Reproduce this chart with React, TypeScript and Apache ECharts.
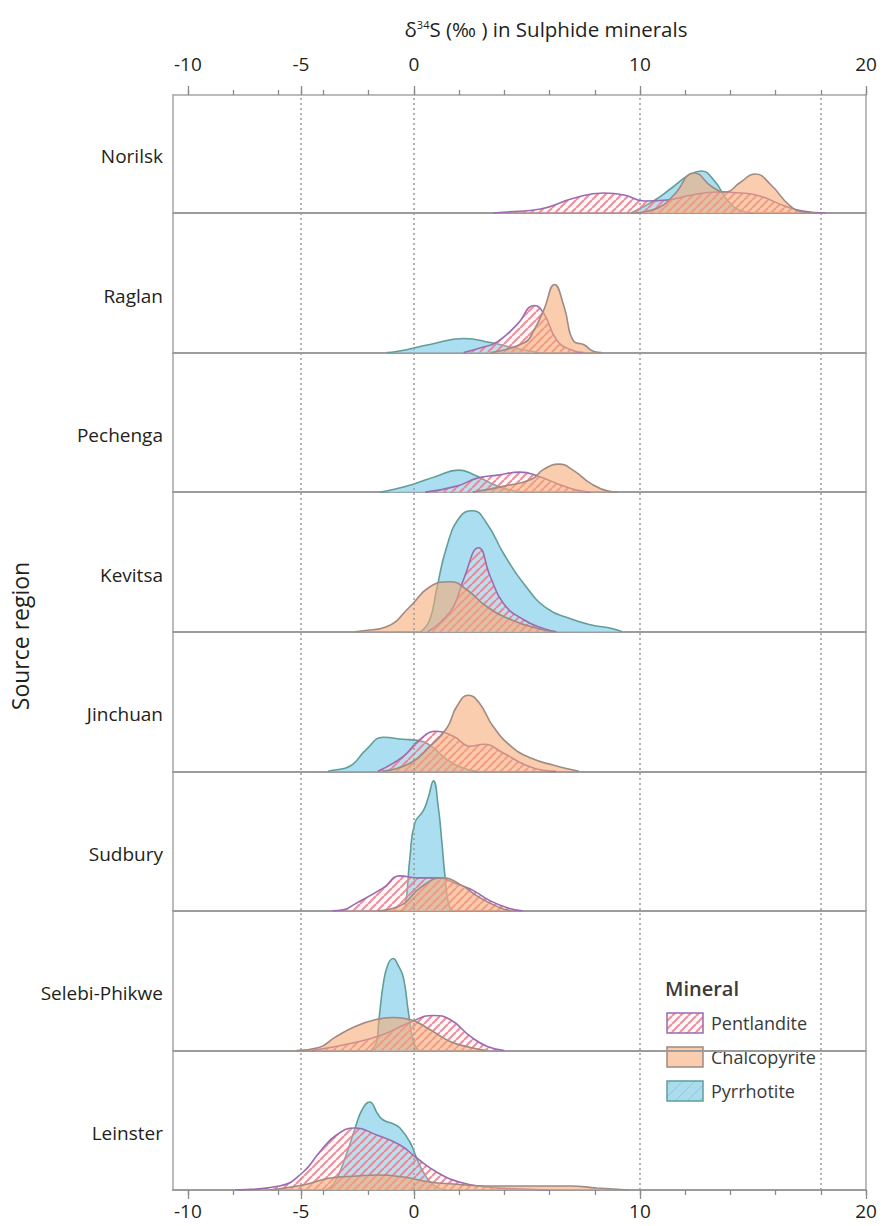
import React, { useEffect, useRef } from "react";
import * as echarts from "echarts";

// ---------- data ----------
const regions = ["Norilsk", "Raglan", "Pechenga", "Kevitsa", "Jinchuan", "Sudbury", "Selebi-Phikwe", "Leinster"];
const minerals = ["Pentlandite", "Chalcopyrite", "Pyrrhotite"];
const xLabelValues = [-10, -5, 0, 10, 20];
const xTickValues = [-10, -8, -6, -5, -4, -2, 0, 2, 4, 6, 8, 10, 12, 14, 16, 18, 20];
const refLineValues = [-5, 0, 10, 18];

// [δ34S, relative density]
const norilskPent = [[3.5, 0], [4.1, 0.01], [5.6, 0.04], [7.1, 0.15], [8.4, 0.2], [9.3, 0.18], [10.2, 0.12], [11.2, 0.13], [12.3, 0.18], [13.4, 0.21], [14.5, 0.2], [15.3, 0.17], [16.4, 0.07], [17.2, 0.02], [18.2, 0]];
const norilskChalco = [[9.6, 0], [10.8, 0.05], [11.5, 0.18], [12.4, 0.4], [13.2, 0.26], [13.8, 0.21], [14.4, 0.3], [15.1, 0.39], [15.8, 0.28], [16.6, 0.08], [17.2, 0.01], [17.8, 0]];
const norilskPyrr = [[9.6, 0], [10.6, 0.12], [11.4, 0.25], [12.1, 0.37], [12.7, 0.42], [13.3, 0.32], [13.9, 0.12], [14.5, 0.02], [15, 0]];

const raglanPent = [[2.2, 0], [3.0, 0.05], [3.7, 0.11], [4.56, 0.28], [5.33, 0.47], [5.75, 0.39], [6.3, 0.13], [6.9, 0.03], [7.5, 0]];
const raglanChalco = [[3.4, 0], [4.9, 0.1], [5.3, 0.22], [5.75, 0.43], [6.22, 0.68], [6.64, 0.46], [7.08, 0.11], [7.5, 0.08], [7.97, 0.01], [8.3, 0]];
const raglanPyrr = [[-1.2, 0], [-0.77, 0.01], [0.71, 0.08], [2.2, 0.14], [3.38, 0.1], [4.56, 0.04], [5.5, 0]];

const pechengaPent = [[0.5, 0], [1.9, 0.06], [2.8, 0.14], [3.7, 0.17], [4.7, 0.2], [5.5, 0.16], [6.4, 0.08], [7.2, 0.02], [7.8, 0]];
const pechengaChalco = [[2.6, 0], [4.0, 0.06], [5.2, 0.13], [5.75, 0.23], [6.4, 0.28], [7.1, 0.21], [7.8, 0.09], [8.6, 0.01], [9.0, 0]];
const pechengaPyrr = [[-1.5, 0], [-1.21, 0.01], [-0.03, 0.08], [1.0, 0.16], [1.97, 0.22], [2.6, 0.18], [3.4, 0.09], [4.1, 0.03], [4.8, 0]];

const kevitsaPent = [[0.6, 0], [1.2, 0.1], [1.75, 0.25], [2.19, 0.52], [2.86, 0.84], [3.38, 0.55], [3.97, 0.28], [4.86, 0.12], [5.75, 0.03], [6.3, 0]];
const kevitsaChalco = [[-2.6, 0], [-2.25, 0.01], [-1.21, 0.05], [-0.18, 0.25], [0.71, 0.45], [1.6, 0.5], [2.34, 0.42], [3.23, 0.25], [4.3, 0.12], [5.5, 0.03], [6.2, 0]];
const kevitsaPyrr = [[0.3, 0], [0.7, 0.12], [1.0, 0.42], [1.45, 0.85], [2.04, 1.15], [2.6, 1.21], [3.23, 1.08], [3.97, 0.78], [4.86, 0.48], [5.9, 0.23], [6.93, 0.13], [7.8, 0.07], [8.8, 0.03], [9.2, 0]];

const jinchuanPent = [[-1.6, 0], [-0.47, 0.15], [0.27, 0.32], [1.0, 0.4], [1.75, 0.35], [2.5, 0.25], [3.08, 0.27], [3.97, 0.18], [4.86, 0.07], [5.7, 0.01], [6.3, 0]];
const jinchuanChalco = [[-1.4, 0], [-0.18, 0.08], [0.71, 0.25], [1.45, 0.43], [1.9, 0.65], [2.41, 0.76], [2.9, 0.68], [3.5, 0.45], [4.3, 0.25], [5.2, 0.13], [6.19, 0.06], [6.9, 0.02], [7.3, 0]];
const jinchuanPyrr = [[-3.8, 0], [-3.58, 0.01], [-2.84, 0.05], [-2.1, 0.22], [-1.36, 0.34], [-0.47, 0.32], [0.1, 0.31], [0.71, 0.26], [1.45, 0.12], [2.2, 0.03], [2.8, 0]];

const sudburyPent = [[-3.6, 0], [-3.14, 0.01], [-2.6, 0.07], [-1.36, 0.23], [-0.62, 0.35], [0.12, 0.33], [1.16, 0.33], [1.75, 0.28], [2.49, 0.22], [3.38, 0.1], [4.27, 0.02], [4.8, 0]];
const sudburyChalco = [[-1.6, 0], [-1.21, 0.01], [-0.47, 0.07], [0.27, 0.23], [1.27, 0.33], [2.0, 0.27], [2.93, 0.13], [3.82, 0.03], [4.3, 0]];
const sudburyPyrr = [[-0.6, 0], [-0.4, 0.03], [-0.18, 0.53], [0.04, 0.88], [0.41, 1.0], [0.63, 1.13], [0.86, 1.3], [1.08, 1.03], [1.23, 0.7], [1.38, 0.33], [1.53, 0.07], [1.7, 0]];

const selebiPent = [[-4.5, 0], [-2.6, 0.08], [-1.36, 0.16], [-0.18, 0.28], [0.86, 0.35], [1.6, 0.31], [2.5, 0.14], [3.25, 0.04], [4.0, 0]];
const selebiChalco = [[-5.2, 0], [-4.2, 0.03], [-3.5, 0.13], [-2.6, 0.24], [-1.66, 0.31], [-0.92, 0.33], [-0.18, 0.31], [0.7, 0.21], [1.6, 0.09], [2.5, 0.03], [3.2, 0]];
const selebiPyrr = [[-1.9, 0], [-1.66, 0.08], [-1.55, 0.3], [-1.36, 0.66], [-1.15, 0.86], [-0.92, 0.92], [-0.7, 0.85], [-0.47, 0.73], [-0.25, 0.39], [-0.03, 0.09], [0.2, 0]];

const leinsterPent = [[-7.9, 0], [-5.95, 0.04], [-4.9, 0.18], [-4.17, 0.38], [-3.43, 0.55], [-2.61, 0.62], [-1.65, 0.55], [-0.62, 0.45], [0.12, 0.32], [1.0, 0.18], [2.0, 0.08], [3.2, 0.03], [4.7, 0.01], [6, 0]];
const leinsterChalco = [[-6.4, 0], [-4.9, 0.05], [-3.7, 0.12], [-2.5, 0.14], [-1.65, 0.15], [-0.47, 0.13], [0.7, 0.08], [1.75, 0.06], [3.2, 0.04], [5.45, 0.04], [6.9, 0.04], [8.1, 0.02], [9.5, 0]];
const leinsterPyrr = [[-3.9, 0], [-3.5, 0.08], [-3.0, 0.35], [-2.6, 0.62], [-2.3, 0.8], [-1.96, 0.88], [-1.6, 0.76], [-1.36, 0.7], [-0.9, 0.66], [-0.62, 0.62], [-0.18, 0.48], [0.12, 0.32], [0.41, 0.18], [0.86, 0.05], [1.4, 0]];

const pentlandite = [norilskPent, raglanPent, pechengaPent, kevitsaPent, jinchuanPent, sudburyPent, selebiPent, leinsterPent];
const chalcopyrite = [norilskChalco, raglanChalco, pechengaChalco, kevitsaChalco, jinchuanChalco, sudburyChalco, selebiChalco, leinsterChalco];
const pyrrhotite = [norilskPyrr, raglanPyrr, pechengaPyrr, kevitsaPyrr, jinchuanPyrr, sudburyPyrr, selebiPyrr, leinsterPyrr];

// ---------- layout ----------
const W = 885;
const H = 1226;
const PLOT_L = 173;
const PLOT_R = 866;
const TOP = 95;
const BOTTOM = 1190;
const FIRST_BASE = 213;
const STEP = (BOTTOM - FIRST_BASE) / 7;
const Y_MAX = STEP / 100;
const X_MIN = -10.66;
const X_MAX = 20;
const FONT = "'Open Sans', 'Noto Sans', sans-serif";
const TEXT = "#231f20";

const PENT_LINE = "#9c6bb0";
const CHALCO_LINE = "#a08a82";
const PYRR_LINE = "#5f9f98";
const CHALCO_FILL = "rgba(246,168,115,0.58)";
const PYRR_FILL = "rgba(158,216,238,0.85)";

function hatch(stroke: string, bg: string | null, size: number, lw: number): string {
  const c = document.createElement("canvas");
  c.width = size;
  c.height = size;
  const g = c.getContext("2d")!;
  if (bg) {
    g.fillStyle = bg;
    g.fillRect(0, 0, size, size);
  }
  g.strokeStyle = stroke;
  g.lineWidth = lw;
  for (const k of [-1, 0, 1]) {
    g.beginPath();
    g.moveTo(k * size, size);
    g.lineTo(k * size + size, 0);
    g.stroke();
  }
  return c.toDataURL();
}

export default function App() {
  const ref = useRef<HTMLDivElement>(null);

  useEffect(() => {
    if (!ref.current) return;
    const chart = echarts.init(ref.current, null, { renderer: "svg", width: W, height: H });

    const pentImg = hatch("rgba(232,124,138,0.82)", "rgba(250,225,232,0.2)", 8, 2.2);
    const pyrrLegendImg = hatch("rgba(120,175,185,0.45)", "rgb(170,220,238)", 12, 1);
    const pentPattern = { image: pentImg, repeat: "repeat", imageWidth: 8, imageHeight: 8 };
    const pyrrLegendPattern = { image: pyrrLegendImg, repeat: "repeat", imageWidth: 12, imageHeight: 12 };

    const baselines = regions.map((_, i) => FIRST_BASE + i * STEP);

    const grids: any[] = [{ left: PLOT_L, width: PLOT_R - PLOT_L, top: TOP, height: BOTTOM - TOP }];
    baselines.forEach((b) => grids.push({ left: PLOT_L, width: PLOT_R - PLOT_L, top: b - STEP, height: STEP }));

    const frameLine = { show: true, onZero: false, lineStyle: { color: "#a5a5a5", width: 1.5 } };
    const xAxes: any[] = [
      {
        type: "value", gridIndex: 0, position: "top", min: X_MIN, max: X_MAX,
        axisLine: frameLine,
        axisTick: { show: true, customValues: xTickValues, length: 5, lineStyle: { color: "#8a8a8a", width: 1.3 } },
        axisLabel: { show: false }, splitLine: { show: false },
      },
      {
        type: "value", gridIndex: 0, position: "top", min: X_MIN, max: X_MAX,
        axisLine: { show: false, onZero: false },
        axisTick: { show: true, customValues: xLabelValues, length: 9, lineStyle: { color: "#8a8a8a", width: 1.3 } },
        axisLabel: { show: true, customValues: xLabelValues, margin: 22, fontSize: 19, fontFamily: FONT, color: TEXT },
        splitLine: { show: false },
      },
      {
        type: "value", gridIndex: 0, position: "bottom", min: X_MIN, max: X_MAX,
        axisLine: frameLine,
        axisTick: { show: true, customValues: xTickValues, length: 5, lineStyle: { color: "#8a8a8a", width: 1.3 } },
        axisLabel: { show: false }, splitLine: { show: false },
      },
      {
        type: "value", gridIndex: 0, position: "bottom", min: X_MIN, max: X_MAX,
        axisLine: { show: false, onZero: false },
        axisTick: { show: true, customValues: xLabelValues, length: 9, lineStyle: { color: "#8a8a8a", width: 1.3 } },
        axisLabel: { show: true, customValues: xLabelValues, margin: 11, fontSize: 19, fontFamily: FONT, color: TEXT },
        splitLine: { show: false },
      },
    ];
    const yAxes: any[] = [
      { type: "value", gridIndex: 0, position: "left", min: 0, max: 1, axisLine: frameLine, axisTick: { show: false }, axisLabel: { show: false }, splitLine: { show: false } },
      { type: "value", gridIndex: 0, position: "right", min: 0, max: 1, axisLine: frameLine, axisTick: { show: false }, axisLabel: { show: false }, splitLine: { show: false } },
    ];
    regions.forEach((_, i) => {
      xAxes.push({
        type: "value", gridIndex: i + 1, position: "bottom", min: X_MIN, max: X_MAX,
        axisLine: { show: true, onZero: false, lineStyle: { color: "#9c9c9c", width: 2 } },
        axisTick: { show: false }, axisLabel: { show: false }, splitLine: { show: false },
      });
      yAxes.push({ type: "value", gridIndex: i + 1, min: 0, max: Y_MAX, show: false });
    });

    const series: any[] = [
      {
        type: "line", name: "ref", xAxisIndex: 0, yAxisIndex: 0, data: [], z: 1, silent: true,
        markLine: {
          symbol: "none", silent: true, label: { show: false },
          lineStyle: { type: [2, 3], color: "#9a9a9a", width: 1.5 },
          data: refLineValues.map((v) => ({ xAxis: v })),
        },
      },
    ];

    const mk = (name: string, i: number, data: number[][], line: string, fill: any, z: number) => ({
      type: "line", name, xAxisIndex: 4 + i, yAxisIndex: 2 + i, data,
      smooth: 0.5, showSymbol: false, symbol: "none", z,
      lineStyle: { color: line, width: 1.6 },
      areaStyle: { color: fill, opacity: 1, origin: "start" },
      silent: true,
    });
    regions.forEach((_, i) => {
      series.push(mk("Pyrrhotite", i, pyrrhotite[i], PYRR_LINE, PYRR_FILL, 2));
      series.push(mk("Pentlandite", i, pentlandite[i], PENT_LINE, pentPattern, 3));
      series.push(mk("Chalcopyrite", i, chalcopyrite[i], CHALCO_LINE, CHALCO_FILL, 4));
    });

    const graphics: any[] = [
      {
        type: "text", x: 546, y: 29,
        style: {
          text: "{a|δ}{s|34}{a|S (‰ ) in Sulphide minerals}",
          align: "center", verticalAlign: "middle",
          rich: {
            a: { fontSize: 20.5, fontFamily: FONT, fill: TEXT },
            s: { fontSize: 11, fontFamily: FONT, fill: TEXT, verticalAlign: "top", padding: [0, 0, 9, 0] },
          },
        },
      },
      {
        type: "text", x: 20, y: 636, rotation: Math.PI / 2,
        style: { text: "Source region", align: "center", verticalAlign: "middle", fontSize: 23, fontFamily: FONT, fill: TEXT },
      },
    ];
    regions.forEach((r, i) => {
      graphics.push({
        type: "text", x: 163, y: baselines[i] - 57,
        style: { text: r, align: "right", verticalAlign: "middle", fontSize: 19, fontFamily: FONT, fill: TEXT },
      });
    });
    // legend
    graphics.push({
      type: "text", x: 665, y: 988,
      style: { text: "Mineral", align: "left", verticalAlign: "middle", fontSize: 20, fontWeight: 600, fontFamily: FONT, fill: "#3a3a3a" },
    });
    const legendFill = [pentPattern, CHALCO_FILL, pyrrLegendPattern];
    const legendLine = [PENT_LINE, CHALCO_LINE, PYRR_LINE];
    minerals.forEach((m, k) => {
      const cy = 1023 + k * 34;
      graphics.push({
        type: "rect", shape: { x: 667, y: cy - 10, width: 36, height: 20 },
        style: { fill: legendFill[k], stroke: legendLine[k], lineWidth: 1.5 },
      });
      graphics.push({
        type: "text", x: 711, y: cy,
        style: { text: m, align: "left", verticalAlign: "middle", fontSize: 18, fontFamily: FONT, fill: "#3a3a3a" },
      });
    });

    chart.setOption({
      animation: false,
      backgroundColor: "#ffffff",
      grid: grids,
      xAxis: xAxes,
      yAxis: yAxes,
      series,
      graphic: graphics,
    });

    return () => chart.dispose();
  }, []);

  return <div ref={ref} style={{ position: "absolute", left: 0, top: 0, width: W, height: H }} />;
}
